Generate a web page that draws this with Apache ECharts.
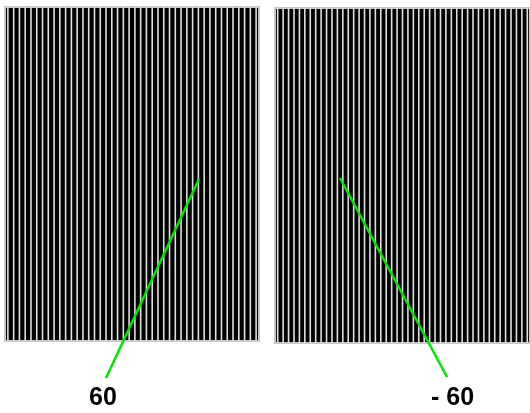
<!DOCTYPE html>
<html>
<head>
<meta charset="utf-8">
<script src="https://cdn.jsdelivr.net/npm/echarts@6/dist/echarts.min.js"></script>
<style>html,body{margin:0;padding:0;background:#fff}#c{width:530px;height:413px}</style>
</head>
<body>
<div id="c"></div>
<script>
// Stripe panels: each stripe spans the full panel height (value 1)
var leftStripes = [1,1,1,1,1,1,1,1,1,1,1,1,1,1,1,1,1,1,1,1,1,1,1,1,1,1,1,1,1,1,1,1,1,1,1,1,1,1,1,1,1,1,1,1];
var rightStripes = [1,1,1,1,1,1,1,1,1,1,1,1,1,1,1,1,1,1,1,1,1,1,1,1,1,1,1,1,1,1,1,1,1,1,1,1,1,1,1,1,1,1,1,1,1,1,1];
var leftCats = leftStripes.map(function(_, i){ return 'L' + i; });
var rightCats = rightStripes.map(function(_, i){ return 'R' + i; });
// Orientation labels and pointer lines (overlay coordinates)
var angleLabels = ['60', '- 60'];
var leftPointer = [[106, 378], [199, 179]];
var rightPointer = [[340, 178], [447, 377]];

var chart = echarts.init(document.getElementById('c'), null, {renderer: 'canvas'});
chart.setOption({
  animation: false,
  backgroundColor: '#ffffff',
  grid: [
    {left: 5, top: 7, width: 254, height: 334, show: true, backgroundColor: '#000000', borderColor: '#c8c8c8', borderWidth: 2},
    {left: 275, top: 8, width: 270, height: 335, show: true, backgroundColor: '#000000', borderColor: '#c8c8c8', borderWidth: 2},
    {left: 0, top: 0, width: 530, height: 413, show: false}
  ],
  xAxis: [
    {type: 'category', gridIndex: 0, data: leftCats, show: false},
    {type: 'category', gridIndex: 1, data: rightCats, show: false},
    {type: 'value', gridIndex: 2, min: 0, max: 530, show: false}
  ],
  yAxis: [
    {type: 'value', gridIndex: 0, min: 0, max: 1, show: false},
    {type: 'value', gridIndex: 1, min: 0, max: 1, show: false},
    {type: 'value', gridIndex: 2, min: 0, max: 413, inverse: true, show: false}
  ],
  series: [
    {type: 'bar', xAxisIndex: 0, yAxisIndex: 0, data: leftStripes, barWidth: 1.6, itemStyle: {color: '#e0e0e0'}, silent: true},
    {type: 'bar', xAxisIndex: 1, yAxisIndex: 1, data: rightStripes, barWidth: 1.6, itemStyle: {color: '#e0e0e0'}, silent: true},
    {type: 'line', xAxisIndex: 2, yAxisIndex: 2, data: leftPointer, symbol: 'none', lineStyle: {color: '#00e600', width: 2.5}},
    {type: 'line', xAxisIndex: 2, yAxisIndex: 2, data: rightPointer, symbol: 'none', lineStyle: {color: '#00e600', width: 2.5}}
  ],
  graphic: [
    {type: 'text', left: 89, top: 386, style: {text: angleLabels[0], font: 'bold 25px "Liberation Sans", Arial, sans-serif', fill: '#000'}},
    {type: 'text', left: 431, top: 386, style: {text: angleLabels[1], font: 'bold 25px "Liberation Sans", Arial, sans-serif', fill: '#000'}}
  ]
});
</script>
</body>
</html>
